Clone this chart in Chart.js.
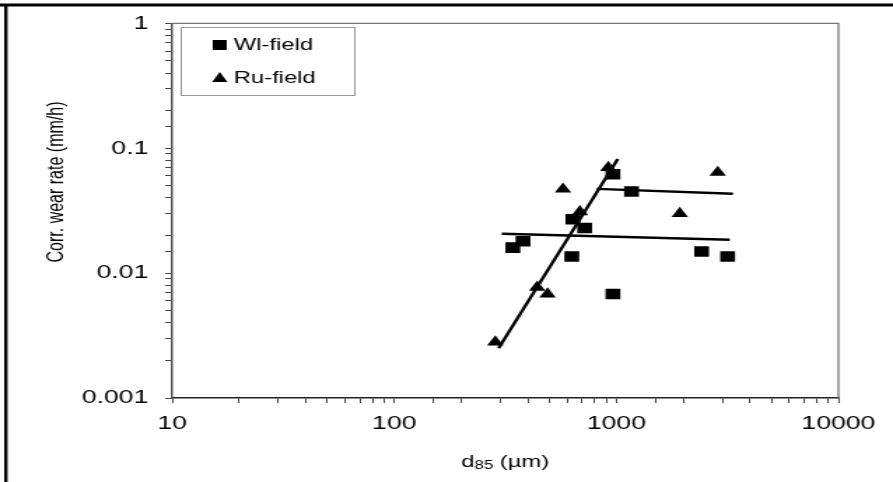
<!DOCTYPE html>
<html>
<head>
<meta charset="utf-8">
<script src="https://cdn.jsdelivr.net/npm/chart.js@4.4.1/dist/chart.umd.min.js"></script>
<style>
  html, body { margin: 0; padding: 0; background: #fff; overflow: hidden; }
  /* the figure is drawn narrow and widened horizontally */
  #wrap { position: relative; width: 638px; height: 482px; transform: scaleX(1.3997); transform-origin: 0 0; }
</style>
</head>
<body>
<div id="wrap"><canvas id="chart"></canvas></div>
<script>
// d85 (µm) and corrected wear rate (mm/h)
const wlX = [342, 380, 630, 637, 720, 965, 965, 1170, 2420, 3170];
const wlY = [0.016, 0.018, 0.0136, 0.027, 0.023, 0.062, 0.0068, 0.045, 0.0149, 0.0136];
const ruX = [285, 440, 490, 575, 685, 920, 1930, 2860];
const ruY = [0.0028, 0.0077, 0.0068, 0.047, 0.031, 0.070, 0.030, 0.064];

// fitted trend lines (end points)
const steepX = [295, 1015];
const steepY = [0.0025, 0.082];
const lowX = [305, 3240];
const lowY = [0.0207, 0.0185];
const highX = [816, 3350];
const highY = [0.0473, 0.0432];

const xTickLabels = ["10", "100", "1000", "10000"];
const yTickLabels = ["0.001", "0.01", "0.1", "1"];
const seriesNames = ["Wl-field", "Ru-field"];

const FONT = "'Liberation Sans', Arial, sans-serif";

const toPoints = (xs, ys) => xs.map((x, i) => ({ x: x, y: ys[i] }));

// only decades get a label, the rest are plain minor ticks
const decadeLabel = (labels) => (value) => {
  const hit = labels.find((l) => Math.abs(Number(l) - value) / value < 1e-6);
  return hit || "";
};

const trend = (xs, ys) => ({
  data: toPoints(xs, ys),
  showLine: true,
  borderColor: "#000",
  borderWidth: 2.4,
  pointRadius: 0,
  fill: false,
});

const extras = {
  id: "extras",
  afterDraw(chart) {
    const { ctx, chartArea } = chart;
    const { left, right, top, bottom } = chartArea;
    ctx.save();

    // plot frame, top and right
    ctx.strokeStyle = "#777";
    ctx.lineWidth = 1.3;
    ctx.beginPath();
    ctx.moveTo(left, top);
    ctx.lineTo(right, top);
    ctx.lineTo(right, bottom);
    ctx.stroke();

    // outer figure border
    ctx.strokeStyle = "#000";
    ctx.lineWidth = 3;
    ctx.beginPath();
    ctx.moveTo(0, 5);
    ctx.lineTo(chart.width, 5);
    ctx.stroke();
    ctx.lineWidth = 2.4;
    ctx.beginPath();
    ctx.moveTo(4.2, 4);
    ctx.lineTo(4.2, chart.height);
    ctx.stroke();

    // legend
    ctx.strokeStyle = "#999";
    ctx.lineWidth = 1;
    ctx.strokeRect(129.5, 27.5, 124, 68);
    ctx.fillStyle = "#000";
    ctx.fillRect(152, 40, 10, 10);
    ctx.beginPath();
    ctx.moveTo(157, 72);
    ctx.lineTo(162.5, 82);
    ctx.lineTo(151.5, 82);
    ctx.closePath();
    ctx.fill();
    ctx.font = "17px " + FONT;
    ctx.textBaseline = "middle";
    ctx.textAlign = "left";
    ctx.fillText(seriesNames[0], 167, 45);
    ctx.fillText(seriesNames[1], 167, 78);

    // y axis title
    ctx.save();
    ctx.translate(41, 182);
    ctx.rotate(-Math.PI / 2);
    ctx.textAlign = "center";
    ctx.font = "16px " + FONT;
    ctx.fillText("Corr. wear rate (mm/h)", 0, 0);
    ctx.restore();

    // x axis title with subscript
    const cx = (left + right) / 2;
    const y = 462;
    ctx.font = "17px " + FONT;
    const a = "d", c = " (\u00b5m)";
    const wa = ctx.measureText(a).width;
    const wc = ctx.measureText(c).width;
    ctx.font = "12px " + FONT;
    const wb = ctx.measureText("85").width;
    let x = cx - (wa + wb + wc) / 2;
    ctx.textAlign = "left";
    ctx.font = "17px " + FONT;
    ctx.fillText(a, x, y);
    ctx.font = "12px " + FONT;
    ctx.fillText("85", x + wa, y + 4);
    ctx.font = "17px " + FONT;
    ctx.fillText(c, x + wa + wb, y);

    ctx.restore();
  },
};

new Chart(document.getElementById("chart"), {
  type: "scatter",
  data: {
    datasets: [
      trend(steepX, steepY),
      trend(lowX, lowY),
      trend(highX, highY),
      {
        label: seriesNames[0],
        data: toPoints(wlX, wlY),
        pointStyle: "rect",
        pointRadius: 7.5,
        backgroundColor: "#000",
        borderColor: "#000",
        borderWidth: 0,
      },
      {
        label: seriesNames[1],
        data: toPoints(ruX, ruY),
        pointStyle: "triangle",
        pointRadius: 6.8,
        backgroundColor: "#000",
        borderColor: "#000",
        borderWidth: 0,
      },
    ],
  },
  options: {
    responsive: true,
    maintainAspectRatio: false,
    animation: false,
    layout: { padding: { left: 0, right: 39, top: 21, bottom: 0 } },
    scales: {
      x: {
        type: "logarithmic",
        min: 10,
        max: 10000,
        afterFit: (scale) => { scale.height = 84; },
        grid: { drawOnChartArea: false, tickLength: 5, tickColor: "#444", tickWidth: 1 },
        border: { color: "#222", width: 1.5 },
        ticks: {
          autoSkip: false,
          maxRotation: 0,
          padding: 9,
          color: "#000",
          font: { family: FONT, size: 19 },
          callback: decadeLabel(xTickLabels),
        },
      },
      y: {
        type: "logarithmic",
        min: 0.001,
        max: 1,
        afterFit: (scale) => { scale.width = 123; },
        grid: { drawOnChartArea: false, tickLength: 5, tickColor: "#444", tickWidth: 1 },
        border: { color: "#555", width: 1.5 },
        ticks: {
          autoSkip: false,
          padding: 12,
          color: "#000",
          font: { family: FONT, size: 19 },
          callback: decadeLabel(yTickLabels),
        },
      },
    },
    plugins: {
      legend: { display: false },
      tooltip: { enabled: false },
    },
  },
  plugins: [extras],
});
</script>
</body>
</html>
